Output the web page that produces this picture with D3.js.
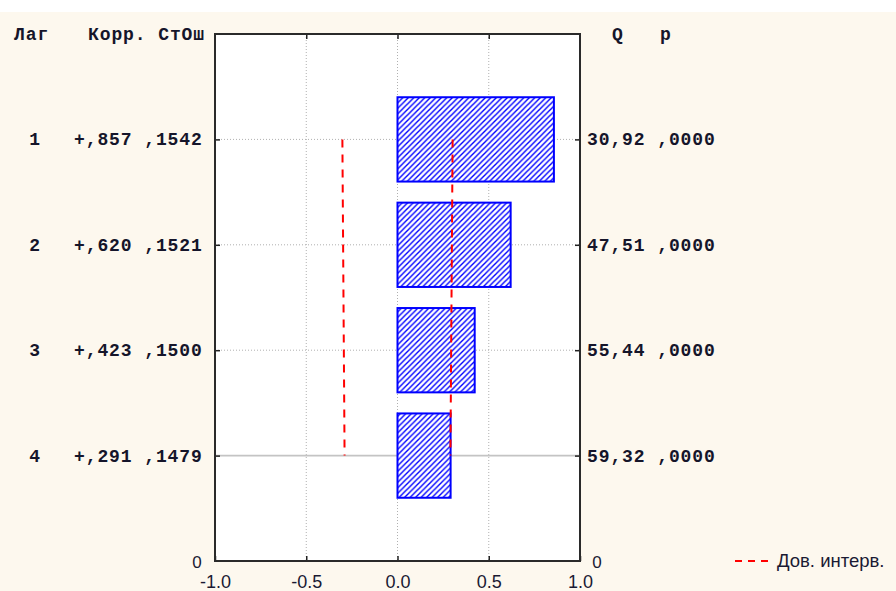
<!DOCTYPE html>
<html>
<head>
<meta charset="utf-8">
<script src="https://cdn.jsdelivr.net/npm/d3@7"></script>
<style>
  html, body { margin: 0; padding: 0; background: #fdf8ee; }
  svg { display: block; }
</style>
</head>
<body>
<svg id="chart" width="896" height="591"></svg>
<script>
// Autocorrelation table: lag, correlation, standard error, Box-Ljung Q, p
const lags = [1, 2, 3, 4];
const corr = [0.857, 0.620, 0.423, 0.291];
const stdErr = [0.1542, 0.1521, 0.1500, 0.1479];
const qStat = [30.92, 47.51, 55.44, 59.32];
const pValue = [0.0000, 0.0000, 0.0000, 0.0000];
// Confidence limits (±) per lag
const confLimit = [0.302, 0.298, 0.294, 0.290];
const xTicks = [-1.0, -0.5, 0.0, 0.5, 1.0];
const headLeft = ["Лаг", "Корр. СтОш"];
const headRight = ["Q", "p"];
const legendLabel = "Дов. интерв.";

const svg = d3.select("#chart");
const W = 896, H = 591;
const plot = { left: 215, right: 580, top: 34, bottom: 561 };

svg.append("rect").attr("width", W).attr("height", H).attr("fill", "#fdf8ee");
svg.append("rect").attr("width", W).attr("height", 12).attr("fill", "#ffffff");

const x = d3.scaleLinear().domain([-1, 1]).range([plot.left, plot.right]);
const y = d3.scaleLinear().domain([0, 5]).range([plot.top, plot.bottom]);

// hatch fill for bars
const defs = svg.append("defs");
const pat = defs.append("pattern")
  .attr("id", "hatch").attr("patternUnits", "userSpaceOnUse")
  .attr("width", 5.5).attr("height", 5.5);
pat.append("rect").attr("width", 5.5).attr("height", 5.5).attr("fill", "#ffffff");
pat.append("path")
  .attr("d", "M-1,1 L1,-1 M0,5.5 L5.5,0 M4.5,6.5 L6.5,4.5")
  .attr("stroke", "#0000ff").attr("stroke-width", 1.4);

// plot background
svg.append("rect")
  .attr("x", plot.left).attr("y", plot.top)
  .attr("width", plot.right - plot.left).attr("height", plot.bottom - plot.top)
  .attr("fill", "#ffffff");

// grid
const grid = svg.append("g");
grid.selectAll("line.v").data([-0.5, 0, 0.5]).join("line")
  .attr("x1", d => x(d)).attr("x2", d => x(d))
  .attr("y1", plot.top).attr("y2", plot.bottom)
  .attr("stroke", "#b0b0b0").attr("stroke-width", 1).attr("stroke-dasharray", "1,2");
grid.selectAll("line.h").data(lags).join("line")
  .attr("x1", plot.left).attr("x2", plot.right)
  .attr("y1", d => y(d)).attr("y2", d => y(d))
  .attr("stroke", (d, i) => i === lags.length - 1 ? "#c4c4c4" : "#b0b0b0")
  .attr("stroke-width", (d, i) => i === lags.length - 1 ? 1.6 : 1)
  .attr("stroke-dasharray", (d, i) => i === lags.length - 1 ? null : "1,2");

// bars
const band = (y(2) - y(1)) * 0.8;
svg.append("g").selectAll("rect").data(lags).join("rect")
  .attr("x", (d, i) => x(Math.min(0, corr[i])))
  .attr("width", (d, i) => Math.abs(x(corr[i]) - x(0)))
  .attr("y", d => y(d) - band / 2)
  .attr("height", band)
  .attr("fill", "url(#hatch)")
  .attr("stroke", "#0000ff").attr("stroke-width", 2);

// confidence limit lines
const ciLine = d3.line().x(d => x(d[0])).y(d => y(d[1]));
[-1, 1].forEach(s => {
  svg.append("path")
    .attr("d", ciLine(lags.map((l, i) => [s * confLimit[i], l])))
    .attr("fill", "none").attr("stroke", "#ff0000").attr("stroke-width", 2)
    .attr("stroke-dasharray", "8,7");
});

// axes with inward ticks
const fmt = d => d.toFixed(1);
const axB = svg.append("g").attr("transform", `translate(0,${plot.bottom})`)
  .call(d3.axisBottom(x).tickValues(xTicks).tickSize(-5).tickPadding(0).tickFormat(fmt));
const axT = svg.append("g").attr("transform", `translate(0,${plot.top})`)
  .call(d3.axisTop(x).tickValues([-0.5, 0, 0.5]).tickSize(-5).tickFormat(""));
const axL = svg.append("g").attr("transform", `translate(${plot.left},0)`)
  .call(d3.axisLeft(y).tickValues(lags).tickSize(-5).tickFormat(""));
const axR = svg.append("g").attr("transform", `translate(${plot.right},0)`)
  .call(d3.axisRight(y).tickValues(lags).tickSize(-5).tickFormat(""));
[axB, axT, axL, axR].forEach(a => {
  a.select(".domain").remove();
  a.selectAll(".tick line").attr("stroke", "#222").attr("stroke-width", 1.5);
});
axB.selectAll(".tick text")
  .attr("y", 27).attr("dy", null)
  .attr("fill", "#1a1a33")
  .style("font-family", "'Liberation Sans', Arial, sans-serif")
  .style("font-size", "18px");

// frame
svg.append("rect")
  .attr("x", plot.left).attr("y", plot.top)
  .attr("width", plot.right - plot.left).attr("height", plot.bottom - plot.top)
  .attr("fill", "none").attr("stroke", "#2a2a2a").attr("stroke-width", 2);

// table text
const mono = t => t
  .style("font-family", "'Liberation Mono', 'DejaVu Sans Mono', monospace")
  .style("font-weight", "bold").style("font-size", "18px")
  .style("letter-spacing", "0.9px").attr("fill", "#15152a");

mono(svg.append("text").attr("x", 14).attr("y", 40).text(headLeft[0]));
mono(svg.append("text").attr("x", 88).attr("y", 40).text(headLeft[1]));
mono(svg.append("text").attr("x", 612).attr("y", 40).text(headRight[0]));
mono(svg.append("text").attr("x", 660).attr("y", 40).text(headRight[1]));

const signed = v => (v >= 0 ? "+" : "-") + Math.abs(v).toFixed(3).replace(/^0\./, ",");
const frac = (v, n) => v.toFixed(n).replace(/^0\./, ",").replace(".", ",");

svg.append("g").selectAll("text").data(lags).join("text")
  .attr("x", 35).attr("y", d => y(d) + 6).attr("text-anchor", "middle")
  .text(d => d).call(mono);
svg.append("g").selectAll("text").data(lags).join("text")
  .attr("x", 74).attr("y", d => y(d) + 6)
  .text((d, i) => signed(corr[i]) + " " + frac(stdErr[i], 4)).call(mono);
svg.append("g").selectAll("text").data(lags).join("text")
  .attr("x", 587).attr("y", d => y(d) + 6)
  .text((d, i) => frac(qStat[i], 2) + " " + frac(pValue[i], 4)).call(mono);

// zero labels at the bottom corners
const sans = (t, size) => t
  .style("font-family", "'Liberation Sans', Arial, sans-serif")
  .style("font-size", size + "px").attr("fill", "#1a1a33");
sans(svg.append("text").attr("x", 197).attr("y", 568).attr("text-anchor", "middle").text("0"), 17);
sans(svg.append("text").attr("x", 597).attr("y", 568).attr("text-anchor", "middle").text("0"), 17);

// legend
svg.append("line")
  .attr("x1", 735).attr("x2", 768).attr("y1", 561).attr("y2", 561)
  .attr("stroke", "#ff0000").attr("stroke-width", 2).attr("stroke-dasharray", "7,6");
sans(svg.append("text").attr("x", 777).attr("y", 567).text(legendLabel), 18.5);
</script>
</body>
</html>
